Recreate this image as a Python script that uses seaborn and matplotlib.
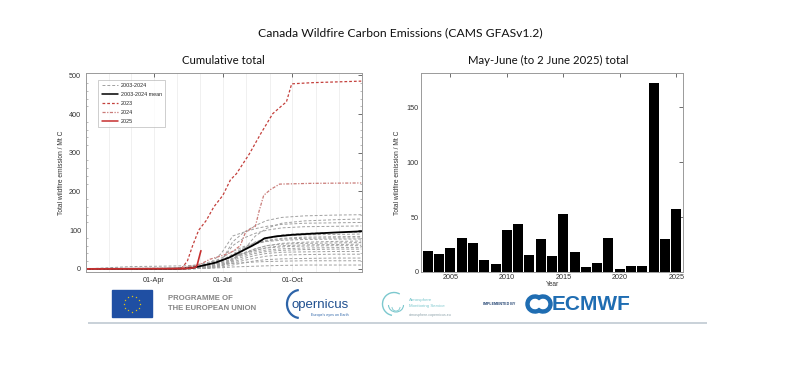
import numpy as np
import pandas as pd
import matplotlib
matplotlib.use("Agg")
import matplotlib.pyplot as plt
import seaborn as sns
from matplotlib.lines import Line2D
from matplotlib.patches import Rectangle, Arc

# ---------------- data ----------------
# knot days-of-year for the 2003-2022 cumulative curves
gray_doy = [1, 60, 100, 130, 150, 165, 180, 195, 210, 225, 240, 260, 290, 330, 365]
y2003 = [0, 0, 0, 0, 1, 3, 8, 25, 50, 70, 80, 88, 92, 94, 95]
y2004 = [0, 0, 0, 0, 2, 5, 12, 25, 40, 52, 60, 64, 66, 67, 68]
y2005 = [0, 0, 0, 1, 3, 6, 12, 22, 32, 40, 45, 48, 50, 51, 51]
y2006 = [0, 0, 0, 1, 4, 10, 20, 35, 50, 65, 74, 79, 82, 83, 84]
y2007 = [0, 0, 0, 0, 1, 3, 8, 15, 22, 28, 33, 36, 37, 38, 38]
y2008 = [0, 0, 0, 0, 1, 2, 5, 10, 16, 21, 24, 26, 27, 28, 28]
y2009 = [0, 0, 0, 1, 3, 5, 10, 18, 27, 35, 40, 43, 44, 45, 45]
y2010 = [0, 0, 1, 3, 8, 14, 22, 32, 42, 52, 60, 66, 69, 71, 72]
y2011 = [0, 0, 0, 2, 6, 12, 22, 38, 55, 68, 78, 85, 88, 89, 90]
y2012 = [0, 0, 0, 1, 3, 8, 16, 26, 36, 44, 49, 52, 54, 55, 55]
y2013 = [0, 0, 0, 1, 4, 10, 22, 60, 80, 92, 100, 106, 109, 110, 111]
y2014 = [0, 0, 0, 0, 2, 6, 20, 70, 95, 112, 125, 133, 137, 139, 140]
y2015 = [0, 0, 0, 1, 5, 15, 40, 85, 95, 104, 110, 115, 118, 119, 120]
y2016 = [0, 0, 1, 3, 12, 18, 24, 32, 40, 48, 55, 60, 62, 63, 64]
y2017 = [0, 0, 0, 1, 3, 8, 18, 35, 52, 64, 72, 77, 79, 80, 80]
y2018 = [0, 0, 0, 1, 3, 7, 15, 28, 40, 48, 54, 57, 59, 60, 60]
y2019 = [0, 0, 0, 1, 5, 9, 12, 14, 16, 18, 19, 20, 21, 21, 21]
y2020 = [0, 0, 0, 0, 1, 2, 3, 5, 6, 7, 8, 9, 10, 10, 10]
y2021 = [0, 6, 7, 8, 10, 15, 28, 45, 58, 66, 71, 74, 76, 77, 77]
y2022 = [0, 0, 0, 0, 1, 3, 8, 20, 50, 85, 105, 118, 124, 127, 129]
gray_years = {2003: y2003, 2004: y2004, 2005: y2005, 2006: y2006, 2007: y2007,
              2008: y2008, 2009: y2009, 2010: y2010, 2011: y2011, 2012: y2012,
              2013: y2013, 2014: y2014, 2015: y2015, 2016: y2016, 2017: y2017,
              2018: y2018, 2019: y2019, 2020: y2020, 2021: y2021, 2022: y2022}

mean_doy = [1, 120, 140, 154, 172, 190, 208, 221, 230, 237, 252, 273, 300, 330, 365]
mean_val = [0, 0.5, 2, 8, 16, 29, 47, 60, 70, 79, 84, 88, 91, 94, 97]

y2023_doy = [1, 120, 128, 135, 142, 150, 160, 170, 182, 192, 200, 217, 232, 248, 262, 266, 273, 300, 365]
y2023_val = [0, 1, 3, 20, 60, 100, 125, 160, 190, 230, 246, 297, 349, 401, 425, 431, 478, 481, 485]

y2024_doy = [1, 125, 150, 165, 182, 195, 205, 212, 220, 225, 230, 236, 245, 257, 300, 365]
y2024_val = [0, 2, 10, 25, 35, 45, 60, 95, 105, 110, 150, 190, 205, 219, 221, 222]

y2025_doy = [1, 130, 140, 146, 148, 150, 152, 153]
y2025_val = [0, 0.5, 2, 4, 10, 25, 40, 47]

month_start_doy = [32, 60, 91, 121, 152, 182, 213, 244, 274, 305, 335]
xtick_doy = [91, 182, 274]
xtick_labels = ["01-Apr", "01-Jul", "01-Oct"]

bar_years = list(range(2003, 2026))
bar_values = [19, 16, 22, 30.5, 26, 11, 7, 38, 44, 15.7, 29.6, 15, 52.6, 17.8,
              5, 8, 31, 3, 5.7, 5.7, 171.8, 30.2, 57]

# ---------------- style ----------------
sns.set_style("white")
plt.rcParams["font.family"] = ["Liberation Sans", "DejaVu Sans"]

W, H = 800, 388
fig = plt.figure(figsize=(W / 100, H / 100), dpi=100)

def fbox(x0, y0, x1, y1):
    return [x0 / W, 1 - y1 / H, (x1 - x0) / W, (y1 - y0) / H]

ax1 = fig.add_axes(fbox(86, 73, 362, 272))
ax2 = fig.add_axes(fbox(421, 73, 683, 272))

tick_col = "#333333"
spine_col = "#9a9a9a"

# ---------------- left panel ----------------
for d in month_start_doy:
    ax1.axvline(d, color="#eeeeee", lw=0.6, zorder=0)

gray_df = pd.DataFrame([(yr, d, v) for yr, vals in gray_years.items()
                        for d, v in zip(gray_doy, vals)],
                       columns=["year", "doy", "value"])
sns.lineplot(data=gray_df, x="doy", y="value", units="year", estimator=None,
             color="#a0a0a0", lw=0.7, linestyle=(0, (3, 2)), ax=ax1, legend=False)

sns.lineplot(x=mean_doy, y=mean_val, color="black", lw=1.3, ax=ax1, legend=False)
sns.lineplot(x=y2023_doy, y=y2023_val, color="#c4403c", lw=0.9,
             linestyle=(0, (2.2, 1.6)), ax=ax1, legend=False)
sns.lineplot(x=y2024_doy, y=y2024_val, color="#c97b78", lw=0.9,
             linestyle=(0, (2.5, 1.2, 1, 1.2)), ax=ax1, legend=False)
sns.lineplot(x=y2025_doy, y=y2025_val, color="#c62f2f", lw=1.2, ax=ax1, legend=False)

ax1.set_xlim(1, 366)
ax1.set_ylim(-8, 506)
ax1.set_xticks(xtick_doy)
ax1.set_xticklabels(xtick_labels)
ax1.set_yticks([0, 100, 200, 300, 400, 500])
ax1.set_yticks(np.arange(0, 501, 20), minor=True)
ax1.tick_params(axis="both", which="major", direction="in", length=3, width=0.5,
                labelsize=5.2, colors=tick_col, right=True, top=True)
ax1.tick_params(axis="y", which="minor", direction="in", length=1.5, width=0.4,
                left=True, right=True, colors="#888888")
ax1.set_xlabel("")
ax1.set_ylabel("Total wildfire emission / Mt C", fontsize=4.8, color=tick_col, labelpad=3)
for s in ax1.spines.values():
    s.set_color(spine_col)
    s.set_linewidth(0.7)

handles = [
    Line2D([], [], color="#a0a0a0", lw=0.7, linestyle=(0, (3, 2))),
    Line2D([], [], color="black", lw=1.1),
    Line2D([], [], color="#c4403c", lw=0.9, linestyle=(0, (2.2, 1.6))),
    Line2D([], [], color="#c97b78", lw=0.9, linestyle=(0, (2.5, 1.2, 1, 1.2))),
    Line2D([], [], color="#c62f2f", lw=1.1),
]
labels = ["2003-2024", "2003-2024 mean", "2023", "2024", "2025"]
leg = ax1.legend(handles, labels, loc="upper left", bbox_to_anchor=(0.035, 0.98),
                 fontsize=3.9, frameon=True, fancybox=False, handlelength=3.0,
                 handletextpad=0.6, labelspacing=0.75, borderpad=0.6)
leg.get_frame().set_edgecolor("#aaaaaa")
leg.get_frame().set_linewidth(0.5)

# ---------------- right panel ----------------
sns.barplot(x=bar_years, y=bar_values, native_scale=True, color="black",
            width=0.88, linewidth=0, saturation=1, ax=ax2)
ax2.set_xlim(2002.4, 2025.6)
ax2.set_ylim(0, 181)
ax2.set_xticks([2005, 2010, 2015, 2020, 2025])
ax2.set_xticklabels(["2005", "2010", "2015", "2020", "2025"])
ax2.set_yticks([0, 50, 100, 150])
ax2.tick_params(axis="both", which="major", direction="in", length=3, width=0.5,
                labelsize=5.2, colors=tick_col, right=True, top=True, pad=1.5)
ax2.set_xlabel("Year", fontsize=4.8, color=tick_col, labelpad=0)
ax2.set_ylabel("Total wildfire emission / Mt C", fontsize=4.8, color=tick_col, labelpad=4)
for s in ax2.spines.values():
    s.set_color(spine_col)
    s.set_linewidth(0.7)

# ---------------- titles ----------------
fig.text(400 / W, 1 - 33 / H, "Canada Wildfire Carbon Emissions (CAMS GFASv1.2)",
         ha="center", va="center", fontsize=8.7, family="Lato", color="#111111")
fig.text(223 / W, 1 - 60 / H, "Cumulative total", ha="center", va="center",
         fontsize=8.2, family="Lato", color="#111111")
fig.text(548 / W, 1 - 60 / H, "May-June (to 2 June 2025) total", ha="center",
         va="center", fontsize=8.2, family="Lato", color="#111111")

# ---------------- logo strip ----------------
lg = fig.add_axes([0, 0, 1, 1], zorder=-1)
lg.set_xlim(0, W)
lg.set_ylim(H, 0)
lg.axis("off")

# EU flag
lg.add_patch(Rectangle((112, 290), 40, 27, color="#1f4fa3"))
ang = np.linspace(0, 2 * np.pi, 13)[:-1]
lg.scatter(132 + 8 * np.cos(ang), 303.5 + 8 * np.sin(ang), marker="*", s=2.5,
           color="#ffd400", linewidths=0)
lg.text(168, 299, "PROGRAMME OF", fontsize=5.6, fontweight="bold", color="#858585",
        va="center", ha="left")
lg.text(168, 309, "THE EUROPEAN UNION", fontsize=5.6, fontweight="bold", color="#858585",
        va="center", ha="left")

# Copernicus
lg.add_patch(Arc((300, 304), 26, 28, theta1=95, theta2=265, color="#2d64a8", lw=1.6))
lg.text(292, 305, "opernicus", fontsize=9.5, color="#1f4f8f", va="center", ha="left")
lg.text(330, 315, "Europe's eyes on Earth", fontsize=2.6, color="#2d64a8",
        va="center", ha="center")

# Atmosphere Monitoring Service
lg.add_patch(Arc((394, 304), 23, 23, theta1=100, theta2=300, color="#7cc8ce", lw=1.0))
lg.add_patch(Arc((396, 305), 15, 14, theta1=0, theta2=180, color="#7cc8ce", lw=0.8))
lg.add_patch(Arc((396, 307), 8, 8, theta1=0, theta2=180, color="#7cc8ce", lw=0.6))
lg.text(409, 300, "Atmosphere", fontsize=3.2, color="#7cc8ce", va="center", ha="left")
lg.text(409, 306, "Monitoring Service", fontsize=3.2, color="#7cc8ce", va="center", ha="left")
lg.text(409, 315, "atmosphere.copernicus.eu", fontsize=2.6, color="#8aa0a8",
        va="center", ha="left")

# ECMWF
lg.text(483, 304, "IMPLEMENTED BY", fontsize=2.6, fontweight="bold", color="#1d3f6e",
        va="center", ha="left")
lg.add_patch(Arc((535, 304), 15, 15, theta1=45, theta2=315, color="#1f6db2", lw=3.2))
lg.add_patch(Arc((543, 304), 15, 15, theta1=-135, theta2=135, color="#1f6db2", lw=3.2))
lg.text(552, 304, "ECMWF", fontsize=15, fontweight="bold", color="#1f6db2",
        va="center", ha="left")

lg.plot([88, 707], [322.7, 322.7], color="#c9d1d8", lw=1.4, solid_capstyle="butt")

fig.savefig("out.png", dpi=100, facecolor="white")
